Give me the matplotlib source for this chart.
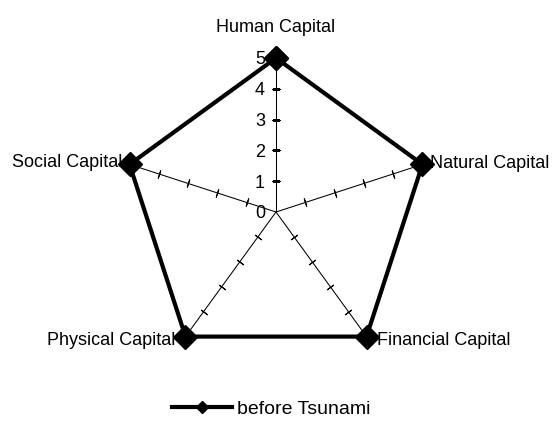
import numpy as np
import matplotlib.pyplot as plt

plt.rcParams['font.family'] = ['Liberation Sans', 'DejaVu Sans']

categories = ['Human Capital', 'Natural Capital', 'Financial Capital',
              'Physical Capital', 'Social Capital']
before_tsunami = [5, 5, 5, 5, 5]
radial_ticks = [0, 1, 2, 3, 4, 5]

# label offsets in pixels from each vertex (dx, dy to baseline, ha)
label_offsets = [(0, 26, 'center'), (8, -4, 'left'), (10, -8, 'left'),
                 (-138, -8, 'left'), (-118, -3, 'left')]

n = len(categories)
angles = np.linspace(0, 2 * np.pi, n, endpoint=False)

fig = plt.figure(figsize=(5.54, 4.21), dpi=100)
ax = fig.add_axes([122 / 554, 55 / 421, 308 / 554, 308 / 421], projection='polar')
ax.set_theta_zero_location('N')
ax.set_theta_direction(-1)
ax.set_ylim(0, 5)
ax.grid(False)
ax.set_xticks([])
ax.set_yticks([])
ax.spines['polar'].set_visible(False)
ax.patch.set_alpha(0)

# spokes with small tick marks
for a in angles:
    ax.plot([a, a], [0, 5], color='black', lw=0.75, zorder=1)
    rot = 90 - np.degrees(a)
    ax.plot([a] * 4, radial_ticks[1:5], linestyle='none',
            marker=(2, 2, rot), markersize=6, markeredgewidth=0.75,
            color='black', zorder=1)

# radial value labels on the vertical axis
for v in radial_ticks:
    ax.annotate(str(v), xy=(0, v), xytext=(-11, 0), textcoords='offset pixels',
                ha='right', va='center_baseline', fontsize=13)

# data
closed_a = np.append(angles, angles[0])
closed_v = before_tsunami + before_tsunami[:1]
ax.plot(closed_a, closed_v, color='black', lw=3, marker='D', markersize=12,
        zorder=5, clip_on=False, label='before Tsunami')

for a, name, (dx, dy, ha) in zip(angles, categories, label_offsets):
    ax.annotate(name, xy=(a, 5), xytext=(dx, dy), textcoords='offset pixels',
                ha=ha, va='baseline', fontsize=13, zorder=2)

fig.legend(loc='center', bbox_to_anchor=(0.49, 0.028), frameon=False,
           fontsize=14, handlelength=3.1, handletextpad=0.25, markerscale=0.55)

fig.savefig('out.png', dpi=100)
